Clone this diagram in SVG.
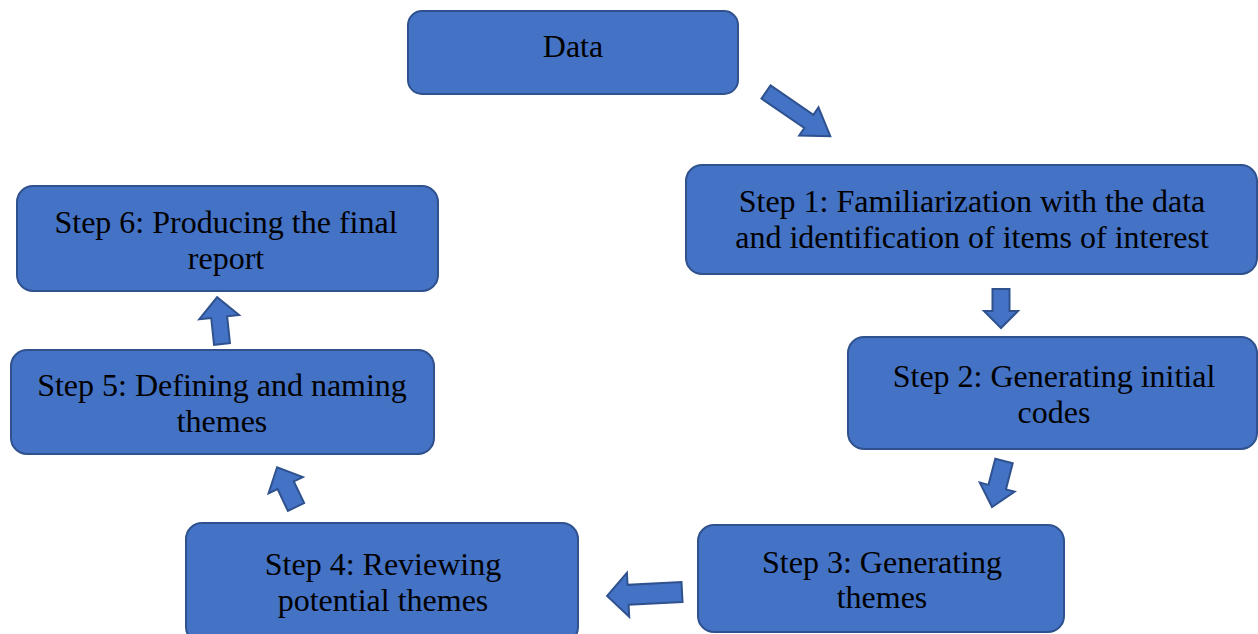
<svg xmlns="http://www.w3.org/2000/svg" width="1258" height="634" viewBox="0 0 1258 634">
<style>
.box{fill:#4472C4;stroke:#2F528F;stroke-width:2}
.arr{fill:#4472C4;stroke:#2F528F;stroke-width:2;stroke-linejoin:miter}
text{font-family:"Liberation Serif","Times New Roman",serif;font-size:32px;fill:#000;text-anchor:middle}
</style>
<rect width="1258" height="634" fill="#fff"/>
<g id="data"><rect class="box" x="408" y="11" width="330" height="83" rx="14"/><text x="573" y="57">Data</text></g>
<g id="step1"><rect class="box" x="686" y="165" width="571" height="109" rx="16"/><text x="972" y="212">Step 1: Familiarization with the data</text><text x="972" y="248">and identification of items of interest</text></g>
<g id="step2"><rect class="box" x="848" y="337" width="409" height="112" rx="16"/><text x="1054" y="387">Step 2: Generating initial</text><text x="1054" y="423">codes</text></g>
<g id="step3"><rect class="box" x="698" y="525" width="366" height="107" rx="16"/><text x="882" y="573">Step 3: Generating</text><text x="882" y="608">themes</text></g>
<g id="step4"><rect class="box" x="186" y="523" width="392" height="120" rx="16"/><text x="383" y="575">Step 4: Reviewing</text><text x="383" y="611">potential themes</text></g>
<g id="step5"><rect class="box" x="11" y="350" width="423" height="104" rx="16"/><text x="222" y="396">Step 5: Defining and naming</text><text x="222" y="432">themes</text></g>
<g id="step6"><rect class="box" x="17" y="186" width="421" height="105" rx="16"/><text x="226" y="233">Step 6: Producing the final</text><text x="226" y="269">report</text></g>
<g id="connectors">
<polygon class="arr" transform="translate(766,92) rotate(34.5)" points="0,-8 52,-8 52,-17 78,0 52,17 52,8 0,8"/>
<polygon class="arr" transform="translate(1001,289) rotate(90)" points="0,-8.5 22,-8.5 22,-17 39,0 22,17 22,8.5 0,8.5"/>
<polygon class="arr" transform="translate(1004,461) rotate(104.6)" points="0,-9 27,-9 27,-18 47.5,0 27,18 27,9 0,9"/>
<polygon class="arr" transform="translate(682,592) rotate(177)" points="0,-10 54,-10 54,-22 75,0 54,22 54,10 0,10"/>
<polygon class="arr" transform="translate(296,507) rotate(-115.4)" points="0,-9 24,-9 24,-19 44,0 24,19 24,9 0,9"/>
<polygon class="arr" transform="translate(222,344) rotate(-96)" points="0,-8 27,-8 27,-20 47,0 27,20 27,8 0,8"/>
</g>
</svg>
